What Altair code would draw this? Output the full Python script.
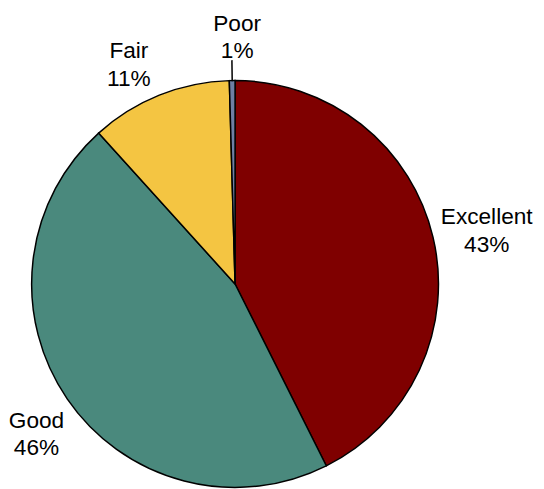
import math
import altair as alt
import pandas as pd

# ---- data ----
categories = ["Excellent", "Good", "Fair", "Poor"]
shares = [42.6, 45.7, 11.25, 0.45]
labels = ["Excellent\n43%", "Good\n46%", "Fair\n11%", "Poor\n1%"]

# ---- style / layout ----
colors = ["#7F0000", "#4A897D", "#F4C542", "#6F7FA3"]
label_radius = [261, 253, 247, 250]
label_nudge_deg = [1.5, -2.8, -4.0, 1.3]
CX, CY, R = 230.5, 276.5, 206.5

df = pd.DataFrame({
    "cat": categories,
    "v": shares,
    "label": labels,
    "idx": list(range(len(categories))),
    "lr": label_radius,
    "nudge": label_nudge_deg,
})

base = alt.Chart(df).transform_joinaggregate(
    total="sum(v)"
).transform_window(
    cum="sum(v)", sort=[alt.SortField("idx")], frame=[None, 0]
).transform_calculate(
    mid="2*PI*(datum.cum - datum.v/2)/datum.total + datum.nudge*PI/180",
    midraw="2*PI*(datum.cum - datum.v/2)/datum.total",
)

pie = alt.Chart(df).mark_arc(
    outerRadius=R, stroke="black", strokeWidth=1.5
).encode(
    theta=alt.Theta("v:Q", stack=True),
    order=alt.Order("idx:Q"),
    color=alt.Color("cat:N", scale=alt.Scale(domain=categories, range=colors), legend=None),
    x=alt.value(CX),
    y=alt.value(CY),
)

text = base.mark_text(
    font="Liberation Sans", fontSize=23, lineBreak="\n", lineHeight=28,
    align="center", baseline="middle", color="black", dy=-14,
).encode(
    theta=alt.Theta("mid:Q", scale=None),
    radius=alt.Radius("lr:Q", scale=None),
    text="label:N",
    x=alt.value(CX),
    y=alt.value(CY),
)

leader = base.transform_filter(alt.datum.cat == "Poor").transform_calculate(
    mid2="datum.midraw + 0.0001"
).mark_arc(
    stroke="black", strokeWidth=1.5, fillOpacity=0, radius=R + 20, radius2=R
).encode(
    theta=alt.Theta("midraw:Q", scale=None),
    theta2="mid2:Q",
    x=alt.value(CX),
    y=alt.value(CY),
)

chart = alt.layer(pie, leader, text).properties(
    width=536, height=481, autosize="none", padding=0,
).configure_view(stroke=None)

chart.save("out.html", embed_options={"renderer": "svg", "actions": False})
